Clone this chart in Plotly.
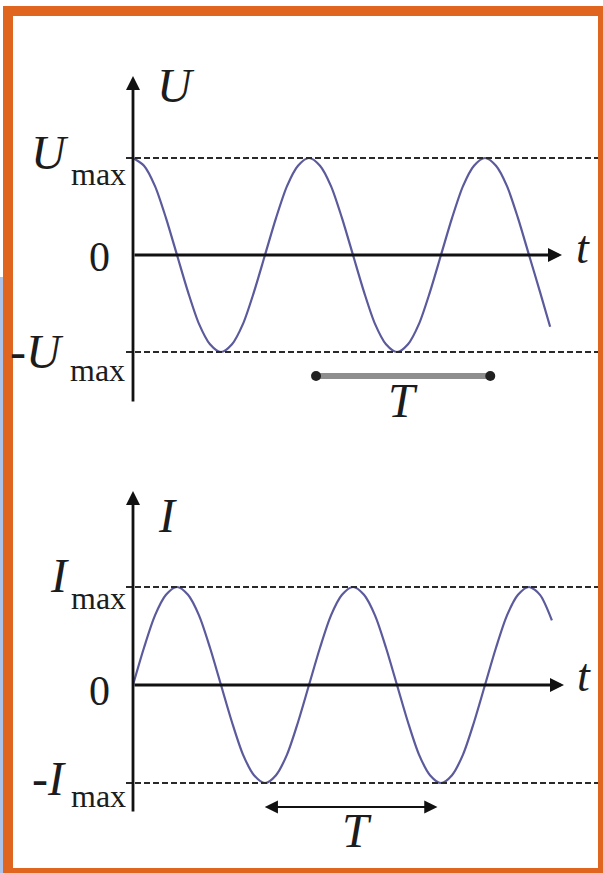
import plotly.graph_objects as go

# ---------------- data (t in units of the period T) ----------------
t_u = [0, 0.0625, 0.125, 0.1875, 0.25, 0.3125, 0.375, 0.4375, 0.5, 0.5625, 0.625, 0.6875,
       0.75, 0.8125, 0.875, 0.9375, 1.0, 1.0625, 1.125, 1.1875, 1.25, 1.3125, 1.375, 1.4375,
       1.5, 1.5625, 1.625, 1.6875, 1.75, 1.8125, 1.875, 1.9375, 2.0, 2.0625, 2.125, 2.1875,
       2.25, 2.3125, 2.37]
u_vals = [1.0, 0.92, 0.71, 0.38, 0.0, -0.38, -0.71, -0.92, -1.0, -0.92, -0.71, -0.38,
          0.0, 0.38, 0.71, 0.92, 1.0, 0.92, 0.71, 0.38, 0.0, -0.38, -0.71, -0.92,
          -1.0, -0.92, -0.71, -0.38, 0.0, 0.38, 0.71, 0.92, 1.0, 0.92, 0.71, 0.38,
          0.0, -0.38, -0.74]

t_i = [0, 0.0625, 0.125, 0.1875, 0.25, 0.3125, 0.375, 0.4375, 0.5, 0.5625, 0.625, 0.6875,
       0.75, 0.8125, 0.875, 0.9375, 1.0, 1.0625, 1.125, 1.1875, 1.25, 1.3125, 1.375, 1.4375,
       1.5, 1.5625, 1.625, 1.6875, 1.75, 1.8125, 1.875, 1.9375, 2.0, 2.0625, 2.125, 2.1875,
       2.25, 2.3125, 2.38]
i_vals = [0.0, 0.38, 0.71, 0.92, 1.0, 0.92, 0.71, 0.38, 0.0, -0.38, -0.71, -0.92,
          -1.0, -0.92, -0.71, -0.38, 0.0, 0.38, 0.71, 0.92, 1.0, 0.92, 0.71, 0.38,
          0.0, -0.38, -0.71, -0.92, -1.0, -0.92, -0.71, -0.38, 0.0, 0.38, 0.71, 0.92,
          1.0, 0.92, 0.66]

amp_levels = [1.0, -1.0]          # ±Umax, ±Imax
T_span_top = [1.04, 2.03]         # period marker under U curve
T_span_bot = [0.74, 1.73]         # period marker under I curve

# ---------------- geometry helpers (pixel -> axis units) ----------------
W, H = 603, 873
X0, PX_PER_T = 133, 176
TOP_ZERO, TOP_SCALE = 255, 97
BOT_ZERO, BOT_SCALE = 685, 98


def tx(px):
    return (px - X0) / PX_PER_T


def uy(py):
    return (TOP_ZERO - py) / TOP_SCALE


def iy(py):
    return (BOT_ZERO - py) / BOT_SCALE


SERIF = "Liberation Serif, Times New Roman, serif"
INK = "#1c1c1c"
CURVE = "#5a5a9c"

fig = go.Figure()

# curves
fig.add_trace(go.Scatter(x=t_u, y=u_vals, mode="lines", xaxis="x", yaxis="y",
                         line=dict(color=CURVE, width=2.2, shape="spline", smoothing=0.8),
                         hoverinfo="skip", showlegend=False))
fig.add_trace(go.Scatter(x=t_i, y=i_vals, mode="lines", xaxis="x2", yaxis="y2",
                         line=dict(color=CURVE, width=2.2, shape="spline", smoothing=0.8),
                         hoverinfo="skip", showlegend=False))

# top period marker (grey bar with black dot ends)
yT_top = uy(376)
fig.add_trace(go.Scatter(x=T_span_top, y=[yT_top, yT_top], mode="lines+markers",
                         xaxis="x", yaxis="y",
                         line=dict(color="#8e8e8e", width=6),
                         marker=dict(color="#222222", size=10),
                         hoverinfo="skip", showlegend=False))

shapes = []
# dashed amplitude lines
for lvl in amp_levels:
    shapes.append(dict(type="line", xref="x", yref="y", x0=tx(126), x1=tx(603), y0=lvl, y1=lvl,
                       line=dict(color="#2a2a2a", width=2.2, dash="6px,3px")))
    shapes.append(dict(type="line", xref="x2", yref="y2", x0=tx(126), x1=tx(603), y0=lvl, y1=lvl,
                       line=dict(color="#2a2a2a", width=2.2, dash="6px,3px")))

# faint blue strip at left edge and orange frame
shapes.append(dict(type="rect", xref="paper", yref="paper", x0=0, x1=3 / W, y0=0, y1=1 - 277 / H,
                   fillcolor="#adc3ea", line=dict(width=0), layer="above"))
shapes.append(dict(type="rect", xref="paper", yref="paper", x0=8 / W, x1=1.0, y0=0.0, y1=1 - 11 / H,
                   line=dict(color="#E0661F", width=10), fillcolor="rgba(0,0,0,0)", layer="above"))

annotations = []


def arrow(xh, yh, xt, yt, xr, yr, width=2.8, head=2, size=1.0, side="end", color="#111111"):
    annotations.append(dict(x=xh, y=yh, ax=xt, ay=yt, xref=xr, yref=yr, axref=xr, ayref=yr,
                            text="", showarrow=True, arrowhead=head, arrowsize=size,
                            arrowwidth=width, arrowcolor=color, arrowside=side,
                            startarrowhead=head, startarrowsize=size, standoff=0, startstandoff=0))


# axes as arrows
arrow(0, uy(76), 0, uy(403), "x", "y")
arrow(tx(562), 0, 0, 0, "x", "y")
arrow(0, iy(491), 0, iy(813), "x2", "y2")
arrow(tx(564), 0, 0, 0, "x2", "y2")
# bottom period marker (double arrow)
yT_bot = iy(807)
arrow(T_span_bot[1], yT_bot, T_span_bot[0], yT_bot, "x2", "y2", width=2.2, head=2, size=1.2,
      side="end+start")


def label(text, px, py, xr, yr, conv, size, xanchor="center"):
    annotations.append(dict(x=tx(px), y=conv(py), xref=xr, yref=yr, text=text, showarrow=False,
                            xanchor=xanchor, yanchor="middle",
                            font=dict(family=SERIF, size=size, color=INK)))


# top panel labels
label("<i>U</i>", 176, 85, "x", "y", uy, 48)
label("<i>U</i>", 50, 152, "x", "y", uy, 48)
label("max", 98, 174, "x", "y", uy, 32)
label("0", 99, 257, "x", "y", uy, 42)
label("-<i>U</i>", 66, 351, "x", "y", uy, 48, xanchor="right")
label("max", 97, 370, "x", "y", uy, 32)
label("<i>t</i>", 583, 247, "x", "y", uy, 46)
label("<i>T</i>", 403, 400, "x", "y", uy, 48)

# bottom panel labels
label("<i>I</i>", 167, 515, "x2", "y2", iy, 48)
label("<i>I</i>", 59, 575, "x2", "y2", iy, 48)
label("max", 98, 598, "x2", "y2", iy, 32)
label("0", 99, 691, "x2", "y2", iy, 42)
label("-<i>I</i>", 68, 778, "x2", "y2", iy, 48, xanchor="right")
label("max", 98, 796, "x2", "y2", iy, 32)
label("<i>t</i>", 584, 675, "x2", "y2", iy, 46)
label("<i>T</i>", 357, 830, "x2", "y2", iy, 48)

x_range = [tx(0), tx(W)]
ax_common = dict(visible=False, showgrid=False, zeroline=False, fixedrange=True)

fig.update_layout(
    width=W, height=H,
    margin=dict(l=0, r=0, t=0, b=0),
    paper_bgcolor="white", plot_bgcolor="white",
    xaxis=dict(domain=[0, 1], range=x_range, anchor="y", **ax_common),
    yaxis=dict(domain=[0.5, 1.0], range=[uy(H * 0.5), uy(0)], anchor="x", **ax_common),
    xaxis2=dict(domain=[0, 1], range=x_range, anchor="y2", **ax_common),
    yaxis2=dict(domain=[0.0, 0.5], range=[iy(H), iy(H * 0.5)], anchor="x2", **ax_common),
    shapes=shapes,
    annotations=annotations,
    showlegend=False,
)

fig.write_html(
    "out.html",
    config={"displayModeBar": False},
    post_script="document.body.style.margin='0';document.body.style.overflow='hidden';",
)
